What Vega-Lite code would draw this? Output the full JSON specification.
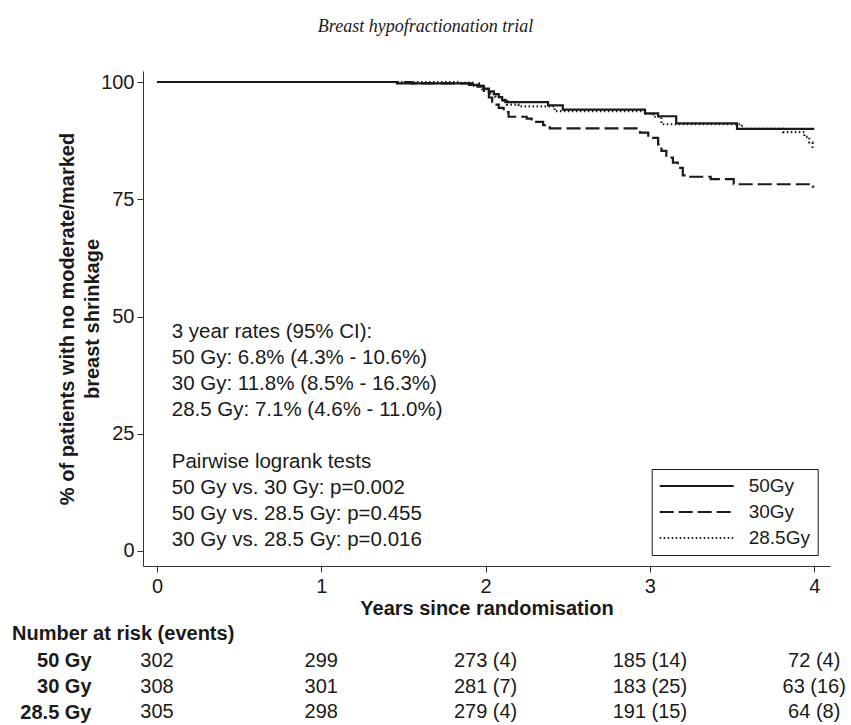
{
  "$schema": "https://vega.github.io/schema/vega-lite/v6.json",
  "autosize": {"type": "pad"},
  "padding": {"left": 12, "top": 18, "right": 0, "bottom": 0},
  "background": "white",
  "config": {
    "font": "Liberation Sans",
    "view": {"stroke": null},
    "axis": {"grid": false, "domainColor": "#333333", "tickColor": "#333333", "labelColor": "#1a1a1a", "titleColor": "#1a1a1a", "labelFontSize": 20, "titleFontSize": 20, "titleFontWeight": "bold", "tickSize": 6, "labelFont": "Liberation Sans", "titleFont": "Liberation Sans"}
  },
  "title": {"text": "Breast hypofractionation trial", "font": "Liberation Serif", "fontStyle": "italic", "fontWeight": "normal", "fontSize": 18, "color": "#1a1a1a", "anchor": "middle", "frame": "group", "dx": -61, "offset": 17, "baseline": "bottom"},
  "bounds": "flush",
  "spacing": 82,
  "vconcat": [
    {
      "width": 687,
      "height": 495,
      "layer": [
        {
          "data": {"values": [
            {"g": "50Gy", "t": 0, "s": 100}, {"g": "50Gy", "t": 1.46, "s": 99.7}, {"g": "50Gy", "t": 1.9, "s": 99.4}, {"g": "50Gy", "t": 1.95, "s": 99.0}, {"g": "50Gy", "t": 1.99, "s": 98.6}, {"g": "50Gy", "t": 2.02, "s": 98.0}, {"g": "50Gy", "t": 2.05, "s": 97.4}, {"g": "50Gy", "t": 2.08, "s": 96.8}, {"g": "50Gy", "t": 2.1, "s": 96.2}, {"g": "50Gy", "t": 2.12, "s": 95.7}, {"g": "50Gy", "t": 2.38, "s": 95.0}, {"g": "50Gy", "t": 2.47, "s": 94.1}, {"g": "50Gy", "t": 2.97, "s": 93.3}, {"g": "50Gy", "t": 3.05, "s": 92.7}, {"g": "50Gy", "t": 3.16, "s": 91.2}, {"g": "50Gy", "t": 3.53, "s": 90.0}, {"g": "50Gy", "t": 4.0, "s": 90.0},
            {"g": "30Gy", "t": 0, "s": 100}, {"g": "30Gy", "t": 1.55, "s": 99.7}, {"g": "30Gy", "t": 1.96, "s": 99.2}, {"g": "30Gy", "t": 1.99, "s": 98.1}, {"g": "30Gy", "t": 2.02, "s": 96.7}, {"g": "30Gy", "t": 2.04, "s": 95.2}, {"g": "30Gy", "t": 2.08, "s": 94.5}, {"g": "30Gy", "t": 2.11, "s": 93.6}, {"g": "30Gy", "t": 2.14, "s": 92.6}, {"g": "30Gy", "t": 2.25, "s": 92.2}, {"g": "30Gy", "t": 2.28, "s": 91.5}, {"g": "30Gy", "t": 2.35, "s": 90.8}, {"g": "30Gy", "t": 2.39, "s": 90.1}, {"g": "30Gy", "t": 2.94, "s": 89.2}, {"g": "30Gy", "t": 2.99, "s": 88.1}, {"g": "30Gy", "t": 3.05, "s": 86.7}, {"g": "30Gy", "t": 3.07, "s": 85.3}, {"g": "30Gy", "t": 3.1, "s": 83.9}, {"g": "30Gy", "t": 3.14, "s": 82.8}, {"g": "30Gy", "t": 3.17, "s": 81.7}, {"g": "30Gy", "t": 3.2, "s": 80.1}, {"g": "30Gy", "t": 3.22, "s": 79.8}, {"g": "30Gy", "t": 3.37, "s": 79.3}, {"g": "30Gy", "t": 3.51, "s": 78.2}, {"g": "30Gy", "t": 3.99, "s": 77.7}, {"g": "30Gy", "t": 4.0, "s": 77.7},
            {"g": "28.5Gy", "t": 0, "s": 100}, {"g": "28.5Gy", "t": 1.85, "s": 99.8}, {"g": "28.5Gy", "t": 1.93, "s": 99.2}, {"g": "28.5Gy", "t": 1.98, "s": 98.5}, {"g": "28.5Gy", "t": 2.02, "s": 97.6}, {"g": "28.5Gy", "t": 2.06, "s": 96.8}, {"g": "28.5Gy", "t": 2.1, "s": 96.0}, {"g": "28.5Gy", "t": 2.13, "s": 95.2}, {"g": "28.5Gy", "t": 2.2, "s": 94.8}, {"g": "28.5Gy", "t": 2.42, "s": 93.8}, {"g": "28.5Gy", "t": 2.97, "s": 93.2}, {"g": "28.5Gy", "t": 3.02, "s": 92.6}, {"g": "28.5Gy", "t": 3.07, "s": 91.0}, {"g": "28.5Gy", "t": 3.56, "s": 90.0}, {"g": "28.5Gy", "t": 3.81, "s": 89.3}, {"g": "28.5Gy", "t": 3.94, "s": 88.3}, {"g": "28.5Gy", "t": 3.97, "s": 87.1}, {"g": "28.5Gy", "t": 3.99, "s": 85.6}
          ]},
          "mark": {"type": "line", "interpolate": "step-after", "strokeWidth": 2.2, "color": "#1a1a1a", "strokeCap": "butt"},
          "encoding": {
            "x": {"field": "t", "type": "quantitative", "scale": {"domain": [-0.085, 4.096], "nice": false, "zero": false}, "axis": {"values": [0, 1, 2, 3, 4], "format": "d", "labelPadding": 4, "title": "Years since randomisation", "titlePadding": 2}},
            "y": {"field": "s", "type": "quantitative", "scale": {"domain": [-3.2, 102.35], "nice": false, "zero": false}, "axis": {"values": [0, 25, 50, 75, 100], "labelPadding": 3, "title": ["% of patients with no moderate/marked", "breast shrinkage"], "titlePadding": -2, "titleLineHeight": 25}},
            "strokeDash": {"field": "g", "type": "nominal", "scale": {"domain": ["50Gy", "30Gy", "28.5Gy"], "range": [[1, 0], [14, 5], [1.5, 2.5]]}, "legend": {"title": null, "orient": "none", "legendX": 508.7, "legendY": 398, "symbolType": "stroke", "symbolSize": 5476, "symbolStrokeWidth": 2, "symbolStrokeColor": "#1a1a1a", "clipHeight": 20, "rowPadding": 6, "labelOffset": 14, "labelFontSize": 19, "labelColor": "#1a1a1a", "labelFont": "Liberation Sans", "padding": 7, "strokeColor": "#1a1a1a", "fillColor": "white"}}
          }
        },
        {
          "data": {"values": [{"note": "3 year rates (95% CI):\n50 Gy: 6.8% (4.3% - 10.6%)\n30 Gy: 11.8% (8.5% - 16.3%)\n28.5 Gy: 7.1% (4.6% - 11.0%)"}]},
          "mark": {"type": "text", "align": "left", "baseline": "alphabetic", "fontSize": 20.5, "lineHeight": 26, "lineBreak": "\n", "color": "#1a1a1a", "font": "Liberation Sans"},
          "encoding": {"x": {"datum": 0.09}, "y": {"datum": 45.4}, "text": {"field": "note"}}
        },
        {
          "data": {"values": [{"note": "Pairwise logrank tests\n50 Gy vs. 30 Gy: p=0.002\n50 Gy vs. 28.5 Gy: p=0.455\n30 Gy vs. 28.5 Gy: p=0.016"}]},
          "mark": {"type": "text", "align": "left", "baseline": "alphabetic", "fontSize": 20.5, "lineHeight": 26, "lineBreak": "\n", "color": "#1a1a1a", "font": "Liberation Sans"},
          "encoding": {"x": {"datum": 0.09}, "y": {"datum": 17.7}, "text": {"field": "note"}}
        }
      ]
    },
    {
      "width": 687,
      "height": 77,
      "title": {"text": "Number at risk (events)", "anchor": "start", "frame": "group", "dx": -131, "offset": -16, "baseline": "bottom", "fontSize": 20, "fontWeight": "bold", "font": "Liberation Sans", "color": "#1a1a1a"},
      "data": {"values": [
        {"group": "50 Gy", "t": 0, "n": "302"}, {"group": "50 Gy", "t": 1, "n": "299"}, {"group": "50 Gy", "t": 2, "n": "273 (4)"}, {"group": "50 Gy", "t": 3, "n": "185 (14)"}, {"group": "50 Gy", "t": 4, "n": "72 (4)"},
        {"group": "30 Gy", "t": 0, "n": "308"}, {"group": "30 Gy", "t": 1, "n": "301"}, {"group": "30 Gy", "t": 2, "n": "281 (7)"}, {"group": "30 Gy", "t": 3, "n": "183 (25)"}, {"group": "30 Gy", "t": 4, "n": "63 (16)"},
        {"group": "28.5 Gy", "t": 0, "n": "305"}, {"group": "28.5 Gy", "t": 1, "n": "298"}, {"group": "28.5 Gy", "t": 2, "n": "279 (4)"}, {"group": "28.5 Gy", "t": 3, "n": "191 (15)"}, {"group": "28.5 Gy", "t": 4, "n": "64 (8)"}
      ]},
      "mark": {"type": "text", "fontSize": 20, "color": "#1a1a1a", "font": "Liberation Sans"},
      "encoding": {
        "x": {"field": "t", "type": "quantitative", "scale": {"domain": [-0.085, 4.096], "nice": false, "zero": false}, "axis": null},
        "y": {"field": "group", "type": "nominal", "sort": ["50 Gy", "30 Gy", "28.5 Gy"], "axis": {"title": null, "domain": false, "ticks": false, "tickSize": 0, "labelPadding": 52, "labelFontWeight": "bold", "labelFontSize": 20}},
        "text": {"field": "n"}
      }
    }
  ]
}
